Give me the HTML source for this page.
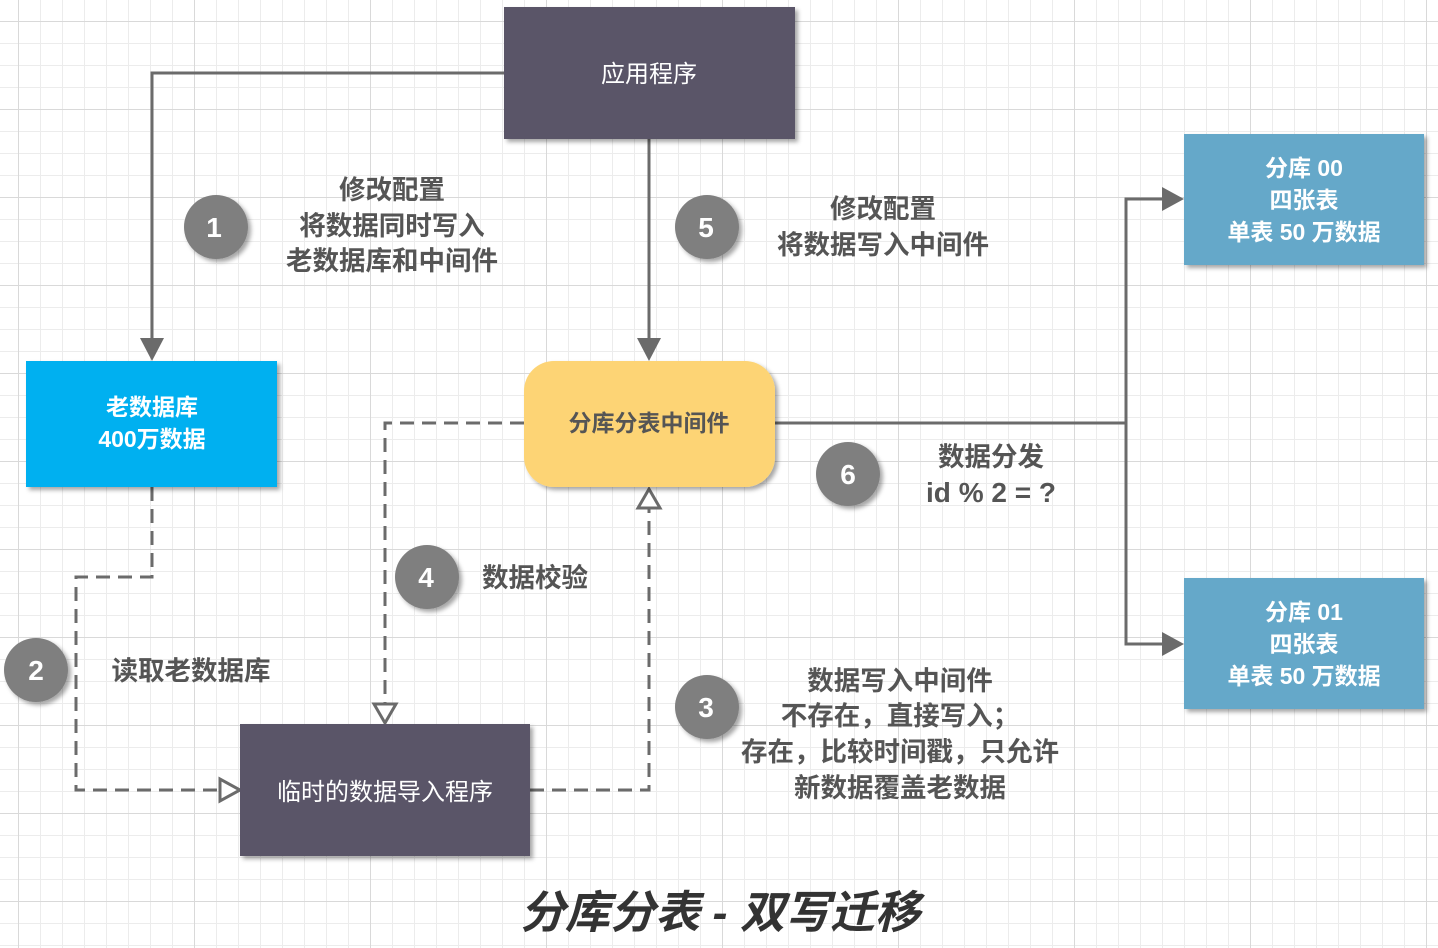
<!DOCTYPE html>
<html><head><meta charset="utf-8"><style>
html,body{margin:0;padding:0;}
body{width:1438px;height:948px;overflow:hidden;background:#fff;
background-image:
linear-gradient(#d9d9d9 1px,transparent 1px),
linear-gradient(90deg,#d9d9d9 1px,transparent 1px),
linear-gradient(#ececec 1px,transparent 1px),
linear-gradient(90deg,#ececec 1px,transparent 1px);
background-size:88px 88px,176px 176px,22px 22px,22px 22px;
background-position:0 21px,18px 0,0 21px,18px 0;}
svg{position:absolute;left:0;top:0;}
text{font-family:"Liberation Sans","Noto Sans CJK SC",sans-serif;}
</style></head><body>
<svg width="1438" height="948" viewBox="0 0 1438 948">
<defs>
<filter id="sh" x="-10%" y="-10%" width="130%" height="130%"><feDropShadow dx="3" dy="3" stdDeviation="2" flood-color="#000" flood-opacity="0.35"/></filter>
</defs>
<g stroke="#6b6b6b" stroke-width="3" fill="none">
<polyline points="504,73 152,73 152,340"/>
<line x1="649" y1="139" x2="649" y2="340"/>
<polyline points="775,423 1126,423"/>
<polyline points="1165,199 1126,199 1126,644 1165,644"/>
</g>
<g fill="#6b6b6b">
<polygon points="140,338 164,338 152,361"/>
<polygon points="637,338 661,338 649,361"/>
<polygon points="1162,187 1162,211 1184,199"/>
<polygon points="1162,632 1162,656 1184,644"/>
</g>
<g stroke="#6b6b6b" stroke-width="3" fill="none" stroke-dasharray="14,8">
<polyline points="152,487 152,577 76,577 76,790 220,790"/>
<polyline points="524,423 385,423 385,705"/>
<polyline points="530,790 649,790 649,509"/>
</g>
<g stroke="#6b6b6b" stroke-width="3" fill="#fff">
<polygon points="220,779 220,801 240,790"/>
<polygon points="374,704 396,704 385,723"/>
<polygon points="638,508 660,508 649,489"/>
</g>
<g filter="url(#sh)">
<rect x="504" y="7" width="291" height="132" fill="#5a5567"/>
<rect x="26" y="361" width="251" height="126" fill="#00b0f0"/>
<rect x="524" y="361" width="251" height="126" rx="30" fill="#fdd474"/>
<rect x="240" y="724" width="290" height="132" fill="#5a5567"/>
<rect x="1184" y="134" width="240" height="131" fill="#65a8c9"/>
<rect x="1184" y="578" width="240" height="131" fill="#65a8c9"/>
<circle cx="216" cy="227" r="32" fill="#7f7f7f"/>
<circle cx="707" cy="227" r="32" fill="#7f7f7f"/>
<circle cx="848" cy="474" r="32" fill="#7f7f7f"/>
<circle cx="427" cy="577" r="32" fill="#7f7f7f"/>
<circle cx="36" cy="670" r="32" fill="#7f7f7f"/>
<circle cx="707" cy="707" r="32" fill="#7f7f7f"/>
</g>
<g fill="#fff" font-size="28" font-weight="bold" text-anchor="middle">
<text x="214" y="237">1</text><text x="706" y="237">5</text><text x="848" y="484">6</text>
<text x="426" y="587">4</text><text x="36" y="680">2</text><text x="706" y="717">3</text>
</g>
<g fill="#fff" font-size="24" text-anchor="middle">
<text x="649" y="82">应用程序</text>
<text x="385" y="800">临时的数据导入程序</text>
</g>
<g fill="#fff" font-size="23" font-weight="bold" text-anchor="middle">
<text x="152" y="415">老数据库</text><text x="152" y="447">400万数据</text>
<text x="1304" y="176">分库 00</text><text x="1304" y="208">四张表</text><text x="1304" y="240">单表 50 万数据</text>
<text x="1304" y="620">分库 01</text><text x="1304" y="652">四张表</text><text x="1304" y="684">单表 50 万数据</text>
</g>
<text x="649" y="431" fill="#555" font-size="23" font-weight="bold" text-anchor="middle">分库分表中间件</text>
<g fill="#555" font-size="26.5" font-weight="bold" text-anchor="middle">
<text x="392" y="199">修改配置</text><text x="392" y="235">将数据同时写入</text><text x="392" y="270">老数据库和中间件</text>
<text x="883" y="218">修改配置</text><text x="883" y="254">将数据写入中间件</text>
<text x="991" y="466">数据分发</text><text x="991" y="502" font-size="28">id % 2 = ?</text>
<text x="535" y="587">数据校验</text>
<text x="191" y="680">读取老数据库</text>
<text x="900" y="690">数据写入中间件</text><text x="900" y="725">不存在，直接写入；</text><text x="900" y="761">存在，比较时间戳，只允许</text><text x="900" y="797">新数据覆盖老数据</text>
</g>
<text x="720" y="928" fill="#333" font-size="45" font-weight="bold" font-style="italic" text-anchor="middle">分库分表 - 双写迁移</text>
</svg>
</body></html>
